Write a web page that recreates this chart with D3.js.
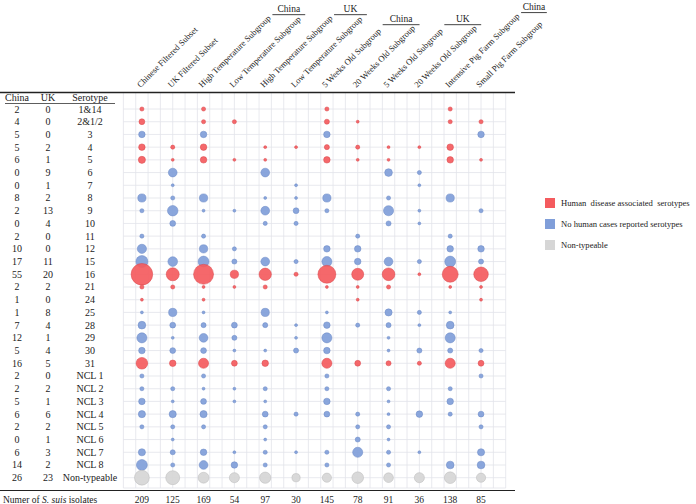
<!DOCTYPE html>
<html>
<head>
<meta charset="utf-8">
<script src="https://cdn.jsdelivr.net/npm/d3@7"></script>
<style>
  body { margin: 0; background: #fff; }
  svg { display: block; font-family: 'Liberation Serif', 'Times New Roman', serif; }
</style>
</head>
<body>
<div id="chart"></div>
<script>
// Serotype rows
const serotypes = ['1&14', '2&1/2', '3', '4', '5', '6', '7', '8', '9', '10', '11', '12', '15', '16',
  '21', '24', '25', '28', '29', '30', '31', 'NCL 1', 'NCL 2', 'NCL 3', 'NCL 4', 'NCL 5', 'NCL 6',
  'NCL 7', 'NCL 8', 'Non-typeable'];
// h = human disease associated, n = no human cases reported, u = non-typeable
const serotypeClass = ['h', 'h', 'n', 'h', 'h', 'n', 'n', 'n', 'n', 'n', 'n', 'n', 'n', 'h',
  'h', 'h', 'n', 'n', 'n', 'n', 'h', 'n', 'n', 'n', 'n', 'n', 'n', 'n', 'n', 'u'];
const chinaCounts = [2, 4, 5, 5, 6, 0, 0, 8, 2, 0, 2, 10, 17, 55, 2, 1, 1, 7, 12, 5, 16, 2, 2, 5, 6, 2, 0, 6, 14, 26];
const ukCounts = [0, 0, 0, 2, 1, 9, 1, 2, 13, 4, 0, 0, 11, 20, 2, 0, 8, 4, 1, 4, 5, 0, 2, 1, 6, 2, 1, 3, 2, 23];

// Subsets / subgroups (columns)
const subsetNames = ['Chinese Filtered Subset', 'UK Filtered Subset', 'High Temperature Subgroup',
  'Low Temperature Subgroup', 'High Temperature Subgroup', 'Low Temperature Subgroup',
  '5 Weeks Old Subgroup', '20 Weeks Old Subgroup', '5 Weeks Old Subgroup', '20 Weeks Old Subgroup',
  'Intensive Pig Farm Subgroup', 'Small Pig Farm Subgroup'];
const subsetTotals = [209, 125, 169, 54, 97, 30, 145, 78, 91, 36, 138, 85];
const countryGroups = [
  { label: 'China', cols: [2, 3] },
  { label: 'UK', cols: [4, 5] },
  { label: 'China', cols: [6, 7] },
  { label: 'UK', cols: [8, 9] },
  { label: 'China', cols: [10, 11] }
];

// isolate counts per serotype for each column
const highTempChina = [2, 2, 5, 5, 5, 0, 0, 8, 1, 0, 2, 8, 14, 47, 1, 1, 1, 3, 9, 4, 12, 2, 1, 4, 6, 2, 0, 5, 9, 14];
const lowTempChina = [0, 2, 0, 0, 1, 0, 0, 0, 1, 0, 0, 2, 3, 8, 1, 0, 0, 4, 3, 1, 4, 0, 1, 1, 0, 0, 0, 1, 5, 12];
const highTempUK = [0, 0, 0, 1, 1, 9, 0, 1, 9, 2, 0, 0, 9, 18, 2, 0, 8, 3, 0, 1, 5, 0, 2, 1, 4, 2, 1, 2, 2, 15];
const lowTempUK = [0, 0, 0, 1, 0, 0, 1, 1, 4, 2, 0, 0, 2, 2, 0, 0, 0, 1, 1, 3, 0, 0, 0, 0, 2, 0, 0, 1, 0, 8];
const weeks5China = [2, 3, 5, 3, 5, 0, 0, 8, 2, 0, 0, 5, 12, 38, 1, 0, 1, 5, 12, 5, 12, 2, 2, 5, 4, 0, 0, 2, 2, 10];
const weeks20China = [0, 1, 0, 2, 1, 0, 0, 0, 0, 0, 2, 5, 5, 17, 1, 1, 0, 2, 0, 0, 4, 0, 0, 0, 2, 2, 3, 12, 0, 16];
const weeks5UK = [0, 0, 0, 1, 1, 7, 0, 2, 12, 3, 0, 0, 9, 19, 2, 0, 6, 3, 1, 1, 3, 0, 2, 1, 1, 2, 1, 2, 2, 11];
const weeks20UK = [0, 0, 0, 1, 0, 2, 1, 0, 1, 1, 0, 0, 2, 1, 0, 0, 2, 1, 0, 3, 2, 0, 0, 0, 5, 0, 0, 1, 0, 12];
const intensiveChina = [2, 2, 0, 5, 5, 0, 0, 8, 0, 0, 2, 5, 14, 30, 1, 0, 1, 7, 12, 3, 12, 0, 2, 5, 2, 0, 0, 0, 7, 16];
const smallFarmChina = [0, 2, 5, 0, 1, 0, 0, 0, 2, 0, 0, 5, 3, 25, 1, 1, 0, 0, 0, 2, 4, 2, 0, 0, 4, 2, 0, 6, 7, 10];

const columnCounts = [chinaCounts, ukCounts, highTempChina, lowTempChina, highTempUK, lowTempUK,
  weeks5China, weeks20China, weeks5UK, weeks20UK, intensiveChina, smallFarmChina];

const legendItems = [
  { key: 'h', label: 'Human  disease associated  serotypes' },
  { key: 'n', label: 'No human cases reported serotypes' },
  { key: 'u', label: 'Non-typeable' }
];

const fillColor = { h: '#f45b5e', n: '#809ed9', u: '#d6d6d6' };
const strokeColor = { h: '#d9474b', n: '#6a88c4', u: '#b9b9b9' };

const width = 696, height = 504;
const svg = d3.select('#chart').append('svg')
  .attr('width', width)
  .attr('height', height);

// grid units: one column every 2.5 units, gridlines every unit
const x = d3.scaleLinear().domain([0, 31]).range([123.4, 505.7]);
const colX = i => x(1.5 + 2.5 * i);
const y = d3.scaleLinear().domain([0, serotypes.length - 1]).range([109, 477.7]);
const r = d3.scaleSqrt().domain([0, 55]).range([0, 10.8]);

// gridlines
const grid = svg.append('g').attr('stroke', '#e2e3ea').attr('stroke-width', 0.8);
grid.selectAll('line.v')
  .data(d3.range(0, 32))
  .join('line')
  .attr('class', 'v')
  .attr('x1', d => x(d)).attr('x2', d => x(d))
  .attr('y1', 93).attr('y2', 488);
grid.selectAll('line.h')
  .data(serotypes.map((s, i) => y(i)).concat([488]))
  .join('line')
  .attr('class', 'h')
  .attr('x1', x(0)).attr('x2', x(31))
  .attr('y1', d => d).attr('y2', d => d);

// table rules
svg.append('line').attr('x1', 0).attr('x2', 515).attr('y1', 92.5).attr('y2', 92.5)
  .attr('stroke', '#222').attr('stroke-width', 1.4);
svg.append('line').attr('x1', 5).attr('x2', 115).attr('y1', 103.5).attr('y2', 103.5)
  .attr('stroke', '#333').attr('stroke-width', 0.8);
svg.append('line').attr('x1', 0).attr('x2', 515).attr('y1', 490.5).attr('y2', 490.5)
  .attr('stroke', '#222').attr('stroke-width', 1);

// left table
const tableCols = [
  { x: 17, head: 'China', vals: chinaCounts },
  { x: 48, head: 'UK', vals: ukCounts },
  { x: 90, head: 'Serotype', vals: serotypes }
];
tableCols.forEach(c => {
  svg.append('text')
    .attr('x', c.x).attr('y', 101)
    .attr('text-anchor', 'middle')
    .attr('font-size', 10)
    .attr('fill', '#222')
    .text(c.head);
  svg.append('g').selectAll('text')
    .data(c.vals)
    .join('text')
    .attr('x', c.x)
    .attr('y', (d, i) => y(i) + 3.5)
    .attr('text-anchor', 'middle')
    .attr('font-size', 10)
    .attr('fill', '#222')
    .text(d => d);
});

// bubbles
const cells = [];
columnCounts.forEach((vals, ci) => {
  vals.forEach((v, ri) => {
    if (v > 0) cells.push({ col: ci, row: ri, value: v, cls: serotypeClass[ri] });
  });
});
svg.append('g').selectAll('circle')
  .data(cells)
  .join('circle')
  .attr('cx', d => colX(d.col))
  .attr('cy', d => y(d.row))
  .attr('r', d => r(d.value))
  .attr('fill', d => fillColor[d.cls])
  .attr('fill-opacity', 0.92)
  .attr('stroke', d => strokeColor[d.cls])
  .attr('stroke-width', 0.5);

// rotated column headers
const headerEnds = [];
const headers = svg.append('g');
subsetNames.forEach((name, i) => {
  const x0 = colX(i) - 1.5, y0 = 88;
  const t = headers.append('text')
    .attr('transform', `translate(${x0},${y0}) rotate(-45)`)
    .attr('font-size', 8.6)
    .attr('fill', '#222')
    .text(name);
  const len = t.node().getComputedTextLength();
  headerEnds.push({ x: x0 + len * Math.SQRT1_2, y: y0 - len * Math.SQRT1_2 });
});

// country group labels above header pairs
countryGroups.forEach(g => {
  const a = headerEnds[g.cols[0]], b = headerEnds[g.cols[1]];
  const ly = Math.min(a.y, b.y) - 4;
  const x1 = a.x + 1, x2 = b.x + 4;
  svg.append('line').attr('x1', x1).attr('x2', x2).attr('y1', ly).attr('y2', ly)
    .attr('stroke', '#444').attr('stroke-width', 1);
  svg.append('text')
    .attr('x', (x1 + x2) / 2).attr('y', ly - 2.5)
    .attr('text-anchor', 'middle')
    .attr('font-size', 9.5)
    .attr('fill', '#222')
    .text(g.label);
});

// footer row
const footer = svg.append('text').attr('x', 3).attr('y', 502.5).attr('font-size', 9.5).attr('fill', '#222');
footer.append('tspan').text('Numer of ');
footer.append('tspan').attr('font-style', 'italic').text('S. suis');
footer.append('tspan').text(' isolates');
svg.append('g').selectAll('text')
  .data(subsetTotals)
  .join('text')
  .attr('x', (d, i) => colX(i))
  .attr('y', 502.5)
  .attr('text-anchor', 'middle')
  .attr('font-size', 9.5)
  .attr('fill', '#222')
  .text(d => d);

// legend
const legend = svg.append('g').attr('transform', 'translate(545,198)');
legend.selectAll('rect')
  .data(legendItems)
  .join('rect')
  .attr('x', 0)
  .attr('y', (d, i) => i * 21)
  .attr('width', 10).attr('height', 10)
  .attr('fill', d => fillColor[d.key]);
legend.selectAll('text')
  .data(legendItems)
  .join('text')
  .attr('x', 16)
  .attr('y', (d, i) => i * 21 + 8)
  .attr('font-size', 8.6)
  .attr('fill', '#222')
  .style('white-space', 'pre')
  .text(d => d.label);
</script>
</body>
</html>
